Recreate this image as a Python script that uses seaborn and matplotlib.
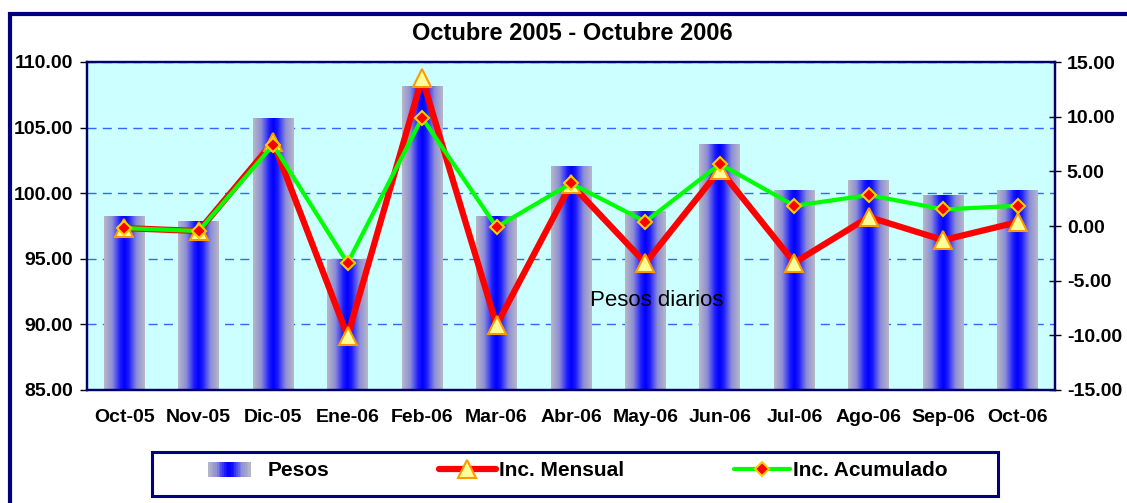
import numpy as np
import pandas as pd
import matplotlib
matplotlib.use('Agg')
import matplotlib.pyplot as plt
import seaborn as sns
from matplotlib.colors import LinearSegmentedColormap
from matplotlib.patches import Rectangle
from matplotlib.legend_handler import HandlerBase
from matplotlib.ticker import FormatStrFormatter

# Datos
meses = ['Oct-05', 'Nov-05', 'Dic-05', 'Ene-06', 'Feb-06', 'Mar-06', 'Abr-06',
         'May-06', 'Jun-06', 'Jul-06', 'Ago-06', 'Sep-06', 'Oct-06']
pesos = [98.26, 97.88, 105.66, 94.98, 108.10, 98.26, 102.07,
         98.64, 103.75, 100.17, 101.00, 99.86, 100.17]
inc_mensual = [-0.19, -0.46, 7.68, -10.07, 13.54, -9.06, 3.84,
               -3.39, 5.15, -3.35, 0.82, -1.29, 0.36]
inc_acumulado = [-0.19, -0.46, 7.41, -3.39, 9.90, -0.10, 3.90,
                 0.40, 5.67, 1.85, 2.83, 1.52, 1.85]

sns.set_style('white')
plt.rcParams['font.family'] = ['Liberation Sans', 'DejaVu Sans']
plt.rcParams['font.weight'] = 'bold'
plt.rcParams['axes.unicode_minus'] = False
for k in ['text.color', 'xtick.color', 'ytick.color', 'axes.labelcolor']:
    plt.rcParams[k] = 'black'

navy = '#000080'
grad_cmap = LinearSegmentedColormap.from_list(
    'pesos', [(0, '#0000ff'), (0.2, '#1a1aff'), (0.6, '#8e8ed8'), (1, '#b8b8c6')])


class GradientHandler(HandlerBase):
    # cuadro del legend con degradado como las barras
    def create_artists(self, legend, orig_handle, xdescent, ydescent,
                       width, height, fontsize, trans):
        n = 24
        w = width * 0.75
        arts = []
        for i in range(n):
            t = abs((i + 0.5) / n - 0.5) * 2
            r = Rectangle((-xdescent + i * w / n, -ydescent), w / n + 0.3, height,
                          facecolor=grad_cmap(t), edgecolor='none', transform=trans)
            arts.append(r)
        return arts


df = pd.DataFrame({'mes': meses, 'pesos': pesos})
pos = np.arange(len(meses))
y_lo, y_hi = 85, 110

fig = plt.figure(figsize=(11.27, 5.03), dpi=100)
ax = fig.add_axes([87 / 1127, 1 - 390 / 503, 968 / 1127, 328 / 503])
ax.set_facecolor('#ccffff')

sns.barplot(data=df, x='mes', y='pesos', ax=ax, width=0.55, color='#2020ff',
            saturation=1, zorder=2)

# degradado horizontal gris-azul-gris en cada barra
prof = np.abs(np.linspace(0, 1, 256) - 0.5) * 2
img = grad_cmap(prof)[None, :, :]
for bar in ax.patches:
    x0, w, h = bar.get_x(), bar.get_width(), bar.get_height()
    bar.set_visible(False)
    ax.imshow(img, extent=[x0, x0 + w, y_lo, h], aspect='auto', zorder=2,
              interpolation='bilinear')

ax.set_xlim(-0.5, len(meses) - 0.5)
ax.set_ylim(y_lo, y_hi)
ax.set_yticks(np.arange(y_lo, y_hi + 1, 5))
ax.yaxis.set_major_formatter(FormatStrFormatter('%.2f'))
ax.set_axisbelow(True)
ax.yaxis.grid(True, color='#3366ff', linestyle=(0, (6.5, 4.5)), linewidth=1)
ax.set_xlabel('')
ax.set_ylabel('')
ax.set_xticks(pos)
ax.set_xticklabels(meses)
ax.set_xticks(np.arange(-0.5, len(meses), 1), minor=True)
ax.tick_params(axis='x', which='major', length=0, labelsize=14, pad=14)
ax.tick_params(axis='x', which='minor', length=5, direction='out', width=1)
ax.tick_params(axis='y', direction='out', length=5, width=1, labelsize=14, pad=5)
ax.tick_params(left=True, bottom=True)

ax.text(0.589, 0.274, 'Pesos diarios', transform=ax.transAxes, ha='center',
        va='center', fontsize=16, fontweight='normal', zorder=5)

ax2 = ax.twinx()
sns.lineplot(x=pos, y=inc_mensual, ax=ax2, color='#ff0000', lw=4.5,
             marker='^', markersize=13, markerfacecolor='#ffff99',
             markeredgecolor='#ff9900', markeredgewidth=1.5,
             label='Inc. Mensual', legend=False, zorder=3)
sns.lineplot(x=pos, y=inc_acumulado, ax=ax2, color='#00ff00', lw=3,
             marker='D', markersize=7, markerfacecolor='#ff0000',
             markeredgecolor='#ffcc00', markeredgewidth=1.5,
             label='Inc. Acumulado', legend=False, zorder=4)
ax2.set_ylim(-15, 15)
ax2.set_yticks(np.arange(-15, 16, 5))
ax2.yaxis.set_major_formatter(FormatStrFormatter('%.2f'))
ax2.tick_params(axis='y', direction='inout', length=9, width=1, labelsize=14, pad=4)
ax2.set_ylabel('')
ax.set_xlim(-0.5, len(meses) - 0.5)

for a in (ax, ax2):
    for s in a.spines.values():
        s.set_color('#000066')
        s.set_linewidth(1.6)

fig.text(572 / 1127, 1 - 34 / 503, 'Octubre 2005 - Octubre 2006', ha='center',
         va='center', fontsize=17, fontweight='bold')

# marco exterior y marco del legend
fig.add_artist(Rectangle((10 / 1127, -0.05), 1.2, 1.05 - 14 / 503,
                         transform=fig.transFigure, fill=False, ec=navy, lw=3))
fig.add_artist(Rectangle((152 / 1127, 1 - 496 / 503), 846 / 1127, 44 / 503,
                         transform=fig.transFigure, fill=False, ec=navy, lw=2.2))

proxy = Rectangle((0, 0), 1, 1)
h, l = ax2.get_legend_handles_labels()
fig.legend(handles=[proxy] + h, labels=['Pesos'] + l, loc='center',
           bbox_to_anchor=(208 / 1127, 1 - 486 / 503, 740 / 1127, 30 / 503),
           bbox_transform=fig.transFigure, mode='expand', ncol=3, frameon=False,
           fontsize=15, handlelength=2.7, handletextpad=0.15, borderpad=0,
           borderaxespad=0, handler_map={proxy: GradientHandler()})

fig.savefig('out.png', dpi=100)
